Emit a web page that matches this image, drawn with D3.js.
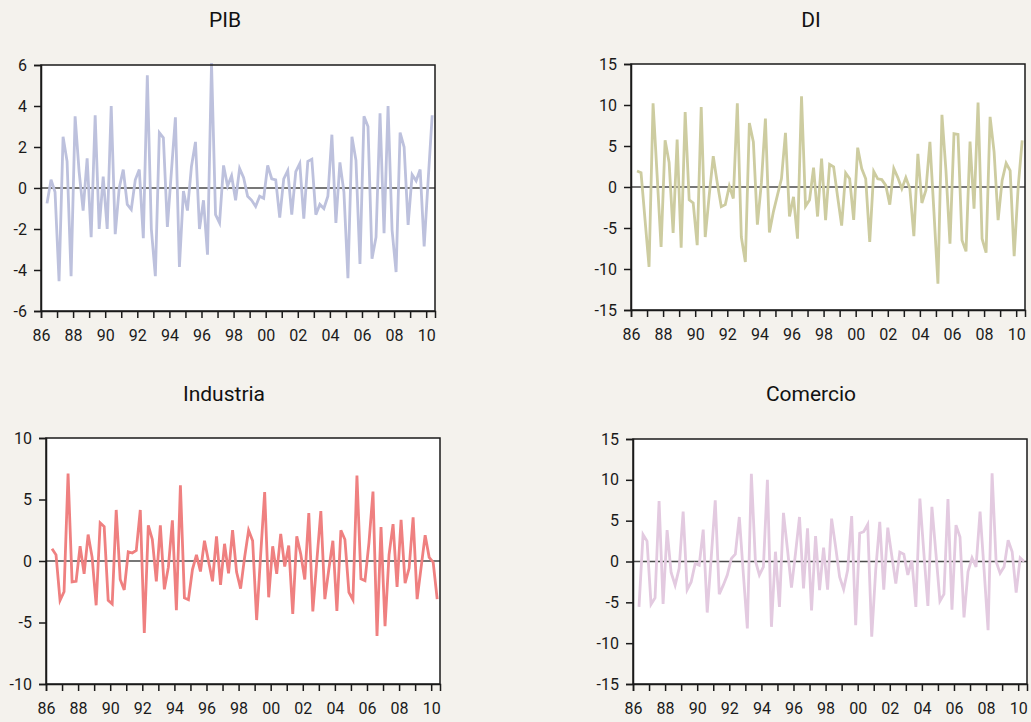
<!DOCTYPE html>
<html>
<head>
<meta charset="utf-8">
<script src="https://cdn.jsdelivr.net/npm/d3@7"></script>
<style>
  html, body { margin: 0; padding: 0; background: #f4f2ed; }
  svg { display: block; }
  .title { font-family: Roboto, "Open Sans", sans-serif; font-weight: 400; font-size: 21px; fill: #111; }
  .tick text { font-family: Roboto, "Open Sans", sans-serif; font-size: 16px; fill: #1a1a1a; }
</style>
</head>
<body>
<svg id="chart" width="1031" height="722"></svg>
<script>
// Quarterly series, 1986Q2 to 2010Q2 (97 quarters)
const firstYear = 1986, firstQuarter = 2, nQuarters = 97;
const quarters = d3.range(nQuarters).map(i => {
  const q = firstQuarter - 1 + i;
  return { year: firstYear + Math.floor(q / 4), q: (q % 4) + 1 };
});

const pib = [
  -0.75, 0.4, -0.2, -4.55, 2.5, 1.3, -4.3, 3.5, 0.8, -1.1,
  1.45, -2.4, 3.55, -2.0, 0.55, -2.0, 4.0, -2.25, 0.0, 0.9,
  -0.8, -1.05, 0.4, 0.9, -2.45, 5.5, -2.0, -4.3, 2.7, 2.45,
  -1.9, 0.8, 3.45, -3.85, -0.15, -1.1, 1.05, 2.25, -2.0, -0.6,
  -3.25, 6.1, -1.3, -1.7, 1.1, 0.1, 0.6, -0.6, 0.95, 0.5,
  -0.4, -0.6, -0.9, -0.4, -0.5, 1.1, 0.45, 0.4, -1.45, 0.45,
  0.85, -1.3, 0.8, 1.2, -1.5, 1.3, 1.4, -1.3, -0.8, -1.0,
  -0.4, 2.6, -1.7, 1.25, -0.2, -4.4, 2.5, 1.35, -3.7, 3.5,
  3.0, -3.45, -2.4, 3.65, -2.2, 4.0, -2.05, -4.1, 2.7, 2.0,
  -1.8, 0.65, 0.35, 0.9, -2.85, 0.4, 3.55
];

const di = [
  1.95, 1.75, -4.0, -9.75, 10.2, 1.5, -7.3, 5.7, 3.0, -5.6,
  5.8, -7.4, 9.15, -1.55, -1.95, -7.1, 9.75, -6.1, -1.0, 3.75,
  0.5, -2.4, -2.15, 0.1, -1.4, 10.2, -6.1, -9.15, 7.8, 5.5,
  -4.6, 0.5, 8.35, -5.55, -3.0, -1.0, 1.0, 6.6, -3.6, -1.2,
  -6.3, 11.05, -2.35, -1.6, 2.35, -3.6, 3.45, -4.05, 2.75, 2.45,
  -1.2, -4.7, 1.7, 1.0, -4.0, 4.8, 2.25, 1.0, -6.7, 1.9,
  1.0, 0.9, 0.2, -2.15, 2.25, 1.15, -0.2, 1.15, -0.2, -6.0,
  4.05, -1.95, -0.4, 5.5, -3.0, -11.8, 8.8, 2.0, -6.9, 6.5,
  6.4, -6.5, -7.85, 5.55, -2.65, 10.3, -6.3, -8.0, 8.55, 4.25,
  -4.05, 0.8, 2.9, 2.0, -8.45, 0.0, 5.7
];

const industria = [
  1.0, 0.5, -3.2, -2.5, 7.1, -1.7, -1.65, 1.2, -1.05, 2.15,
  0.3, -3.6, 3.1, 2.8, -3.2, -3.5, 4.15, -1.5, -2.35, 0.75,
  0.65, 0.85, 4.15, -5.85, 2.9, 1.75, -1.65, 2.9, -2.3, -0.5,
  3.3, -4.0, 6.15, -3.0, -3.15, -0.7, 0.5, -0.85, 1.65, 0.0,
  -1.65, 2.0, -1.95, 1.4, -1.0, 2.5, -0.9, -2.25, 0.3, 2.5,
  1.65, -4.8, 0.5, 5.6, -2.95, 1.2, -1.05, 2.2, -0.45, 1.25,
  -4.3, 2.0, 0.55, -1.5, 3.9, -4.1, 0.0, 4.05, -3.1, -0.65,
  1.65, -4.05, 2.5, 1.75, -2.55, -3.15, 6.95, -1.45, -1.6, 1.5,
  5.65, -6.1, 2.75, -5.3, 0.5, 3.0, -2.1, 3.35, -1.8, -0.6,
  3.55, -3.1, -0.5, 2.1, 0.3, -0.1, -3.1
];

const comercio = [
  -5.55, 3.3, 2.5, -5.25, -4.45, 7.4, -5.2, 3.85, -1.35, -2.9,
  -0.85, 6.1, -3.45, -2.5, -0.25, -0.45, 3.9, -6.25, 0.5, 7.5,
  -4.0, -2.9, -1.65, 0.35, 0.9, 5.45, -1.5, -8.2, 10.75, 0.1,
  -1.65, -0.65, 10.0, -8.0, 1.2, -5.55, 5.95, 1.5, -3.2, 1.0,
  5.45, -3.3, 4.05, -6.0, 3.1, -3.5, 1.7, -3.45, 5.25, 1.8,
  -1.9, -3.4, -1.05, 5.55, -7.8, 3.45, 3.65, 4.55, -9.2, -1.0,
  4.85, -3.45, 4.15, 0.7, -2.7, 1.15, 0.9, -1.65, 0.15, -5.55,
  7.7, 1.0, -5.45, 6.7, 1.0, -4.85, -4.0, 7.65, -5.9, 4.45,
  3.0, -6.85, -1.25, 0.45, -0.65, 6.1, -1.0, -8.4, 10.8, 0.0,
  -1.45, -0.65, 2.6, 1.2, -3.8, 0.45, 0.0
];

// Axis ticks
const yearTicks = d3.range(1986, 2011);
const yearLabelEvery = 2;
const yTicksPib = [-6, -4, -2, 0, 2, 4, 6];
const yTicksDi = [-15, -10, -5, 0, 5, 10, 15];
const yTicksInd = [-10, -5, 0, 5, 10];
const yTicksCom = [-15, -10, -5, 0, 5, 10, 15];

const xDomain = [1986, 2010.55];

const panels = [
  { title: "PIB", values: pib, color: "#bdc1dd", yTicks: yTicksPib,
    box: { left: 41, top: 65, right: 435, bottom: 311 }, titleX: 225, titleY: 27 },
  { title: "DI", values: di, color: "#cdcca0", yTicks: yTicksDi,
    box: { left: 631, top: 64, right: 1025, bottom: 310 }, titleX: 811, titleY: 27 },
  { title: "Industria", values: industria, color: "#ef8080", yTicks: yTicksInd,
    box: { left: 46, top: 438, right: 440, bottom: 684 }, titleX: 224, titleY: 401 },
  { title: "Comercio", values: comercio, color: "#e3cae0", yTicks: yTicksCom,
    box: { left: 633, top: 439, right: 1027, bottom: 684 }, titleX: 811, titleY: 401 }
];

const svg = d3.select("#chart");
const fmt = v => String(v).replace("\u2212", "-");

panels.forEach(p => {
  const b = p.box;
  const x = d3.scaleLinear().domain(xDomain).range([b.left, b.right]);
  const y = d3.scaleLinear().domain(d3.extent(p.yTicks)).range([b.bottom, b.top]);
  const g = svg.append("g");

  // plot background
  g.append("rect")
    .attr("x", b.left).attr("y", b.top)
    .attr("width", b.right - b.left).attr("height", b.bottom - b.top)
    .attr("fill", "#ffffff");

  // zero reference line
  g.append("line")
    .attr("x1", b.left).attr("x2", b.right)
    .attr("y1", y(0)).attr("y2", y(0))
    .attr("stroke", "#4a4a4a").attr("stroke-width", 1.4);

  // series line, each quarter at its mid-point
  const line = d3.line()
    .x((d, i) => x(quarters[i].year + (quarters[i].q - 0.5) / 4))
    .y(d => y(d));
  g.append("path")
    .datum(p.values)
    .attr("fill", "none")
    .attr("stroke", p.color)
    .attr("stroke-width", 2.8)
    .attr("stroke-linejoin", "miter")
    .attr("d", line);

  // frame
  g.append("rect")
    .attr("x", b.left).attr("y", b.top)
    .attr("width", b.right - b.left).attr("height", b.bottom - b.top)
    .attr("fill", "none").attr("stroke", "#1a1a1a").attr("stroke-width", 1.5);

  // y axis
  const yAxis = d3.axisLeft(y).tickValues(p.yTicks).tickSize(7).tickPadding(7)
    .tickFormat(fmt);
  g.append("g")
    .attr("transform", `translate(${b.left},0)`)
    .call(yAxis)
    .call(a => a.select(".domain").attr("stroke", "#1a1a1a").attr("stroke-width", 1.5))
    .call(a => a.selectAll(".tick line").attr("stroke", "#1a1a1a").attr("stroke-width", 1.5));

  // x axis: a tick every year, labels every second year
  const xAxis = d3.axisBottom(x).tickValues(yearTicks).tickSize(7).tickPadding(12)
    .tickFormat(v => ((v - yearTicks[0]) % yearLabelEvery === 0) ? String(v % 100).padStart(2, "0") : "");
  g.append("g")
    .attr("transform", `translate(0,${b.bottom})`)
    .call(xAxis)
    .call(a => a.select(".domain").attr("stroke", "#1a1a1a").attr("stroke-width", 1.5))
    .call(a => a.selectAll(".tick line").attr("stroke", "#1a1a1a").attr("stroke-width", 1.5));

  // title
  g.append("text")
    .attr("class", "title")
    .attr("x", p.titleX).attr("y", p.titleY)
    .attr("text-anchor", "middle")
    .text(p.title);
});
</script>
</body>
</html>
